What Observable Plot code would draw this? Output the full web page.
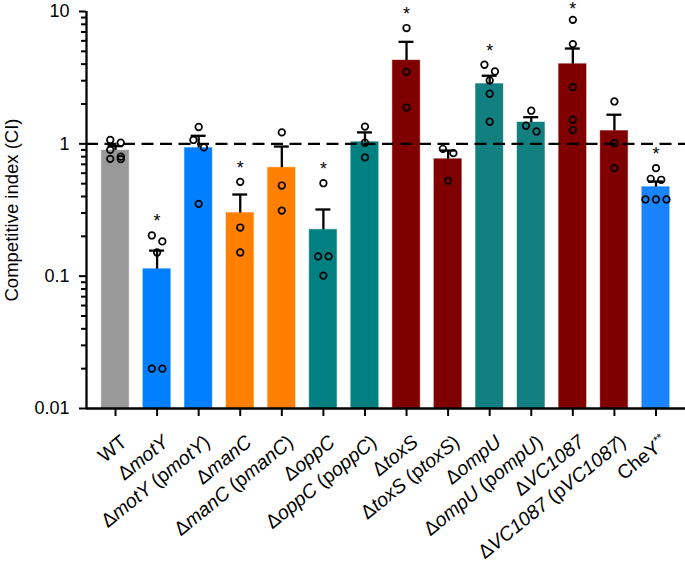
<!DOCTYPE html>
<html><head><meta charset="utf-8">
<script src="https://cdn.jsdelivr.net/npm/d3@7"></script>
<script src="https://cdn.jsdelivr.net/npm/@observablehq/plot@0.6"></script>
<style>body{margin:0;background:#fff} svg{display:block}</style>
</head><body><div id="chart"></div>
<script>
// category labels (markup: <i> italic, <sup> superscript)
const categories = [
  "WT",
  "Δ<i>motY</i>",
  "Δ<i>motY</i> (p<i>motY</i>)",
  "Δ<i>manC</i>",
  "Δ<i>manC</i> (p<i>manC</i>)",
  "Δ<i>oppC</i>",
  "Δ<i>oppC</i> (p<i>oppC</i>)",
  "Δ<i>toxS</i>",
  "Δ<i>toxS</i> (p<i>toxS</i>)",
  "Δ<i>ompU</i>",
  "Δ<i>ompU</i> (p<i>ompU</i>)",
  "Δ<i>VC1087</i>",
  "Δ<i>VC1087</i> (p<i>VC1087</i>)",
  "CheY<sup>**</sup>"
];
const barColors = ["#999999","#0080ff","#0080ff","#ff8000","#ff8000","#008080","#008080",
  "#800000","#800000","#128080","#128080","#800000","#800000","#1a84ff"];
const means = [0.89, 0.113, 0.93, 0.30, 0.66, 0.224, 1.03, 4.26, 0.766, 2.83, 1.45, 4.0, 1.25, 0.471];
const errTops = [0.96, 0.156, 1.15, 0.414, 0.954, 0.319, 1.22, 5.9, 0.89, 3.27, 1.59, 5.25, 1.66, 0.519];
const replicates = [
  [1.07, 1.02, 0.90, 0.80, 0.77, 0.766],
  [0.203, 0.183, 0.151, 0.020, 0.020],
  [1.34, 1.07, 0.94, 0.352],
  [0.516, 0.233, 0.151],
  [1.22, 0.484, 0.313],
  [0.504, 0.141, 0.141, 0.101],
  [1.35, 1.02, 0.79],
  [7.5, 3.5, 1.88],
  [0.917, 0.85, 0.525],
  [3.96, 3.52, 3.01, 2.39, 1.47],
  [1.78, 1.37, 1.24],
  [8.65, 5.67, 2.68, 1.52, 1.27],
  [2.09, 1.01, 0.655],
  [0.655, 0.544, 0.535, 0.38, 0.38, 0.38]
];
const significant = [false,true,false,true,false,true,false,true,false,true,false,true,false,true];
const yTickValues = [0.01, 0.1, 1, 10];
const yTickLabels = ["0.01", "0.1", "1", "10"];
const yLabel = "Competitive index (CI)";

// layout
const W = 685, H = 570, mL = 86, mR = 0, mT = 11, mB = 162;
const yDomain = [0.01, 10];
const xDomain = [-0.698, 13.71];
const pxPerUnit = (W - mL - mR) / (xDomain[1] - xDomain[0]);
const innerH = H - mT - mB;
const decadePx = innerH / (Math.log10(yDomain[1]) - Math.log10(yDomain[0]));
const yPx = v => mT + (Math.log10(yDomain[1]) - Math.log10(v)) * decadePx;
const yVal = py => Math.pow(10, Math.log10(yDomain[1]) - (py - mT) / decadePx);

const plain = categories.map(s => s.replace(/<[^>]+>/g, ""));
const bars = categories.map((c, i) => {
  const maxv = Math.max(errTops[i], ...replicates[i]);
  // asterisk sits ~18px above the highest mark, kept inside the top edge
  const starPy = Math.max(yPx(maxv) - 18.5 + 4.6, 8.6);
  return {i, label: plain[i], mean: means[i], top: errTops[i], color: barColors[i], sig: significant[i], starV: yVal(starPy)};
});

// simple row-based spread of replicate points (scatter dot plot)
const dots = [];
const diam = 8.4, spread = 10.5;
replicates.forEach((vals, i) => {
  const pts = vals.map(v => ({v, py: yPx(v)})).sort((a, b) => a.py - b.py);
  let rows = [];
  for (const p of pts) {
    const row = rows[rows.length - 1];
    if (row && p.py - row[0].py < diam) row.push(p); else rows.push([p]);
  }
  for (const row of rows) {
    const n = row.length;
    row.forEach((p, k) => dots.push({x: i + (k - (n - 1) / 2) * spread / pxPerUnit, v: p.v}));
  }
});

const minor = [];
for (let d = 0.01; d < 9; d *= 10) for (let k = 2; k <= 9; k++) minor.push(+(d * k).toPrecision(3));

const font = "Liberation Sans, Arial, Helvetica, sans-serif";
const hw = 0.331, capHW = 0.18, lw = 2.3;

const chart = Plot.plot({
  width: W, height: H, marginLeft: mL, marginRight: mR, marginTop: mT, marginBottom: mB,
  style: {fontFamily: font, background: "#fff", overflow: "visible"},
  x: {domain: xDomain},
  y: {type: "log", domain: yDomain},
  color: {type: "identity"},
  marks: [
    Plot.rectY(bars, {x1: d => d.i - hw, x2: d => d.i + hw, y1: yDomain[0], y2: "mean", fill: "color", stroke: "color", strokeOpacity: 0.4, strokeWidth: 1}),
    Plot.ruleY([1], {stroke: "#000", strokeWidth: 2.3, strokeDasharray: "12,6.5"}),
    Plot.ruleX(bars, {x: "i", y1: "mean", y2: "top", stroke: "#000", strokeWidth: lw}),
    Plot.ruleY(bars, {y: "top", x1: d => d.i - capHW, x2: d => d.i + capHW, stroke: "#000", strokeWidth: lw}),
    Plot.dot(dots, {x: "x", y: "v", r: 3.3, stroke: "#000", strokeWidth: 1.7, fill: "none"}),
    Plot.text(bars.filter(d => d.sig), {x: "i", y: "starV", text: () => "*", fontSize: 18, fill: "#000"}),
    Plot.axisY(yTickValues, {tickSize: 7, tickPadding: 10, strokeWidth: 2, fontSize: 18,
      tickFormat: d => yTickLabels[yTickValues.indexOf(d)], label: null}),
    Plot.axisY(minor, {tickSize: 5, strokeWidth: 2, tickFormat: () => "", label: null}),
    Plot.text([yLabel], {frameAnchor: "left", rotate: -90, textAnchor: "middle", dx: -74.5, fontSize: 18.5, fill: "#000"}),
    Plot.axisX(d3.range(categories.length), {tickSize: 8, strokeWidth: 2, tickFormat: () => "", label: null}),
    Plot.text(bars, {x: "i", y: () => yDomain[0], text: "label", rotate: -39, textAnchor: "end", lineAnchor: "top",
      dx: 4, dy: 25, fontSize: 19.5, fill: "#000"}),
    Plot.ruleX([xDomain[0]], {stroke: "#000", strokeWidth: lw}),
    Plot.ruleY([yDomain[0]], {stroke: "#000", strokeWidth: lw})
  ]
});

// rich text for category labels (italic gene names, superscript)
const NS = "http://www.w3.org/2000/svg";
chart.querySelectorAll("text").forEach(t => {
  const idx = plain.indexOf(t.textContent);
  if (idx < 0) return;
  const markup = categories[idx];
  while (t.firstChild) t.removeChild(t.firstChild);
  const re = /<(i|sup)>(.*?)<\/\1>|([^<]+)/g;
  let m;
  while ((m = re.exec(markup))) {
    const ts = document.createElementNS(NS, "tspan");
    if (m[1] === "i") { ts.setAttribute("font-style", "italic"); ts.textContent = m[2]; }
    else if (m[1] === "sup") { ts.setAttribute("font-size", "0.6em"); ts.setAttribute("dy", "-0.6em"); ts.textContent = m[2]; }
    else ts.textContent = m[3];
    t.appendChild(ts);
  }
});
document.getElementById("chart").appendChild(chart);
</script>
</body></html>
